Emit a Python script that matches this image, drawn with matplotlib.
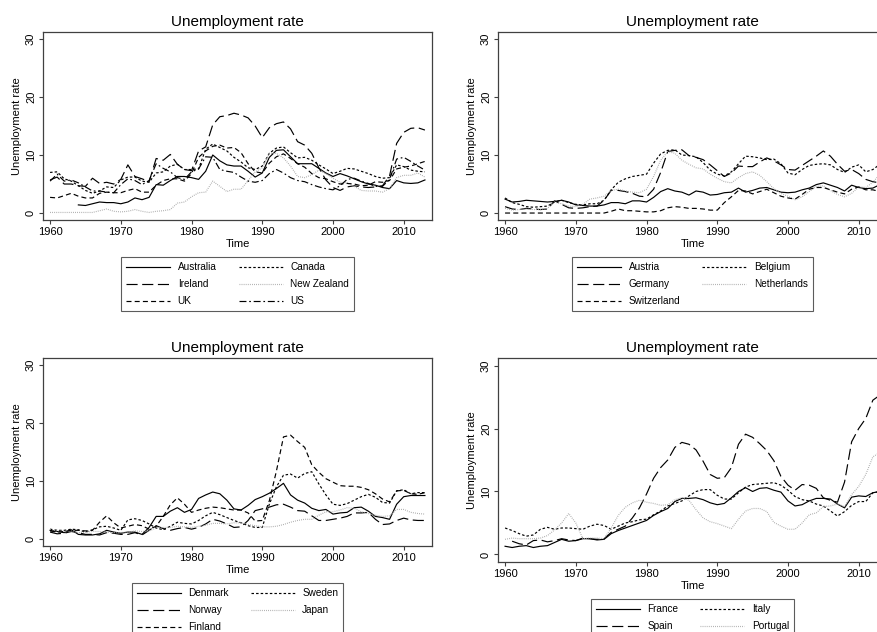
"""
Unemployment rate, 1960-2013, four country groups (Stata s1mono look)
"""

import matplotlib

matplotlib.use("Agg")

import matplotlib.pyplot as plt
import numpy as np

nan = np.nan
years = list(range(1960, 2014))

# --------------------------------------------
# data, 1960..2013
# --------------------------------------------
australia = [nan, nan, nan, nan, 1.4, 1.3, 1.6, 1.9, 1.8, 1.8,
             1.6, 1.9, 2.6, 2.3, 2.7, 4.9, 4.8, 5.6, 6.3, 6.3,
             6.1, 5.8, 7.2, 10.0, 9.0, 8.3, 8.1, 8.1, 7.2, 6.2,
             6.9, 9.6, 10.8, 10.9, 9.7, 8.5, 8.5, 8.5, 7.7, 6.9,
             6.3, 6.8, 6.4, 5.9, 5.4, 5.0, 4.8, 4.4, 4.2, 5.6,
             5.2, 5.1, 5.2, 5.7]
canada = [7.0, 7.1, 5.9, 5.5, 4.7, 3.9, 3.4, 3.8, 4.5, 4.4,
          5.7, 6.2, 6.2, 5.5, 5.3, 6.9, 7.1, 8.1, 8.4, 7.5,
          7.5, 7.6, 11.0, 11.9, 11.3, 10.7, 9.6, 8.8, 7.8, 7.5,
          8.1, 10.3, 11.2, 11.4, 10.4, 9.5, 9.6, 9.1, 8.3, 7.6,
          6.8, 7.2, 7.7, 7.6, 7.2, 6.8, 6.3, 6.0, 6.1, 8.3,
          8.0, 7.4, 7.2, 7.1]
ireland = [5.7, 6.2, 5.0, 5.0, 4.7, 4.6, 6.0, 5.1, 5.3, 5.0,
           5.8, 8.3, 6.3, 5.9, 5.4, 9.4, 9.1, 10.1, 8.4, 7.5,
           7.3, 10.7, 11.4, 15.2, 16.6, 16.8, 17.2, 16.9, 16.4, 15.0,
           13.0, 14.7, 15.4, 15.7, 14.5, 12.3, 11.7, 10.3, 7.8, 5.7,
           4.4, 3.9, 4.5, 4.7, 4.5, 4.4, 4.5, 4.7, 6.4, 12.0,
           13.9, 14.6, 14.7, 14.3]
new_zealand = [0.1, 0.1, 0.1, 0.1, 0.1, 0.1, 0.1, 0.4, 0.7, 0.3,
               0.2, 0.3, 0.6, 0.3, 0.1, 0.3, 0.4, 0.6, 1.7, 1.9,
               2.8, 3.5, 3.6, 5.5, 4.6, 3.7, 4.1, 4.1, 5.6, 7.1,
               7.8, 10.3, 10.3, 9.5, 8.1, 6.3, 6.1, 6.6, 7.4, 6.8,
               6.0, 5.3, 5.2, 4.6, 3.9, 3.8, 3.8, 3.6, 4.2, 6.1,
               6.5, 6.5, 6.9, 6.2]
uk = [2.7, 2.6, 3.0, 3.4, 2.9, 2.6, 2.6, 3.4, 3.6, 3.5,
      3.5, 3.9, 4.2, 3.6, 3.6, 4.8, 5.6, 5.9, 5.9, 5.5,
      6.8, 9.6, 10.7, 11.5, 11.7, 11.2, 11.3, 10.4, 8.5, 7.1,
      6.9, 8.6, 9.7, 10.2, 9.4, 8.5, 7.9, 6.8, 6.1, 5.9,
      5.4, 5.0, 5.1, 5.0, 4.7, 4.8, 5.4, 5.3, 5.6, 7.6,
      7.9, 8.1, 8.5, 8.9]
us = [5.5, 6.7, 5.5, 5.7, 5.2, 4.5, 3.8, 3.8, 3.6, 3.5,
      4.9, 5.9, 5.6, 4.9, 5.6, 8.5, 7.7, 7.1, 6.1, 5.8,
      7.1, 7.6, 9.7, 9.6, 7.5, 7.2, 7.0, 6.2, 5.5, 5.3,
      5.6, 6.8, 7.5, 6.9, 6.1, 5.6, 5.4, 4.9, 4.5, 4.2,
      4.0, 4.7, 5.8, 6.0, 5.5, 5.1, 4.6, 4.6, 5.8, 9.3,
      9.6, 8.9, 8.1, 7.4]

austria = [2.4, 1.9, 2.0, 2.2, 2.1, 2.0, 1.9, 2.0, 2.2, 1.9,
           1.4, 1.3, 1.2, 1.2, 1.4, 1.8, 1.8, 1.6, 2.1, 2.1,
           1.9, 2.7, 3.7, 4.2, 3.8, 3.6, 3.1, 3.8, 3.6, 3.1,
           3.2, 3.5, 3.6, 4.3, 3.6, 3.9, 4.3, 4.4, 4.0, 3.6,
           3.5, 3.6, 4.0, 4.3, 4.9, 5.2, 4.8, 4.4, 3.8, 4.8,
           4.4, 4.2, 4.3, 4.9]
belgium = [2.6, 1.8, 1.5, 1.1, 1.0, 1.1, 1.2, 1.9, 2.2, 1.8,
           1.5, 1.4, 1.6, 1.6, 2.2, 4.0, 5.3, 5.9, 6.3, 6.5,
           6.7, 8.6, 10.2, 10.8, 10.9, 10.0, 9.9, 9.7, 8.7, 7.4,
           6.7, 6.4, 7.1, 8.5, 9.8, 9.7, 9.5, 9.2, 9.3, 8.5,
           6.9, 6.6, 7.5, 8.2, 8.4, 8.5, 8.3, 7.5, 7.0, 7.9,
           8.3, 7.1, 7.5, 8.4]
germany = [1.1, 0.7, 0.6, 0.8, 0.7, 0.6, 0.7, 2.1, 1.5, 0.9,
           0.8, 0.9, 1.1, 1.2, 2.2, 3.9, 3.9, 3.7, 3.4, 2.9,
           2.8, 4.1, 7.0, 10.6, 10.8, 10.9, 9.9, 9.6, 9.2, 8.3,
           7.3, 6.3, 6.9, 8.1, 8.0, 8.0, 8.8, 9.5, 9.0, 8.3,
           7.5, 7.4, 8.2, 9.0, 9.8, 10.7, 9.8, 8.4, 7.2, 7.5,
           6.8, 5.8, 5.4, 5.2]
netherlands = [0.8, 0.5, 0.6, 0.7, 0.6, 0.6, 0.8, 1.9, 1.6, 1.2,
               1.1, 1.5, 2.4, 2.6, 2.9, 3.9, 4.1, 3.8, 3.6, 3.5,
               4.1, 6.3, 9.1, 10.6, 10.3, 9.1, 8.4, 7.8, 7.6, 6.7,
               6.0, 5.4, 5.2, 6.1, 6.8, 7.1, 6.5, 5.4, 4.2, 3.4,
               2.9, 2.3, 2.8, 3.7, 4.6, 4.7, 3.9, 3.2, 2.8, 3.4,
               4.5, 4.4, 5.3, 6.7]
switzerland = [0.0, 0.0, 0.0, 0.0, 0.0, 0.0, 0.0, 0.0, 0.0, 0.0,
               0.0, 0.0, 0.0, 0.0, 0.0, 0.3, 0.7, 0.4, 0.4, 0.3,
               0.2, 0.2, 0.4, 0.9, 1.1, 1.0, 0.8, 0.8, 0.7, 0.5,
               0.5, 1.8, 2.8, 3.9, 3.8, 3.3, 3.7, 4.1, 3.5, 2.9,
               2.6, 2.4, 3.2, 4.1, 4.4, 4.4, 4.0, 3.6, 3.3, 4.1,
               4.5, 4.0, 4.0, 3.7]

denmark = [1.5, 1.3, 1.1, 1.6, 0.8, 0.7, 0.7, 0.9, 1.5, 1.2,
           1.0, 1.2, 1.2, 0.8, 2.0, 3.9, 3.9, 4.8, 5.4, 4.6,
           5.1, 7.0, 7.6, 8.1, 7.8, 6.7, 5.2, 5.0, 5.8, 6.8,
           7.3, 7.9, 8.7, 9.6, 7.6, 6.7, 6.2, 5.3, 4.9, 5.1,
           4.3, 4.5, 4.6, 5.4, 5.5, 4.8, 3.9, 3.7, 3.4, 6.0,
           7.3, 7.5, 7.5, 7.5]
sweden = [1.7, 1.5, 1.5, 1.7, 1.6, 1.2, 1.6, 2.1, 2.2, 1.9,
          1.5, 3.3, 3.5, 3.2, 2.6, 1.9, 1.6, 2.2, 2.9, 2.7,
          2.6, 3.2, 4.0, 4.6, 4.2, 3.7, 3.2, 2.8, 2.3, 2.0,
          2.0, 6.0, 9.0, 11.0, 11.2, 10.5, 11.3, 11.6, 9.5, 7.6,
          6.0, 5.8, 6.1, 6.7, 7.3, 7.7, 7.2, 6.3, 6.2, 8.3,
          8.5, 7.8, 8.0, 8.0]
norway = [1.2, 0.9, 1.0, 1.3, 1.1, 0.8, 0.8, 0.7, 1.1, 1.0,
          0.8, 0.8, 1.1, 0.7, 1.5, 2.3, 1.8, 1.5, 1.8, 2.0,
          1.7, 2.0, 2.6, 3.4, 3.1, 2.6, 2.0, 2.1, 3.2, 4.9,
          5.2, 5.5, 5.9, 6.0, 5.5, 4.9, 4.8, 4.0, 3.2, 3.2,
          3.4, 3.6, 3.9, 4.5, 4.5, 4.6, 3.4, 2.5, 2.6, 3.2,
          3.6, 3.3, 3.2, 3.2]
japan = [1.7, 1.4, 1.3, 1.3, 1.1, 1.2, 1.3, 1.3, 1.2, 1.1,
         1.1, 1.2, 1.4, 1.3, 1.4, 1.9, 2.0, 2.0, 2.2, 2.1,
         2.0, 2.2, 2.4, 2.7, 2.7, 2.6, 2.8, 2.8, 2.5, 2.3,
         2.1, 2.1, 2.2, 2.5, 2.9, 3.2, 3.4, 3.4, 4.1, 4.7,
         4.7, 5.0, 5.4, 5.3, 4.7, 4.4, 4.1, 3.9, 4.0, 5.1,
         5.1, 4.6, 4.4, 4.3]
finland = [1.4, 1.2, 1.3, 1.5, 1.5, 1.4, 1.5, 2.9, 4.0, 2.8,
           1.9, 2.2, 2.5, 2.3, 1.7, 2.2, 3.9, 5.9, 7.1, 6.0,
           4.6, 5.0, 5.3, 5.5, 5.4, 5.2, 5.0, 5.0, 4.5, 3.1,
           3.2, 6.6, 11.7, 17.6, 17.9, 16.8, 15.8, 12.8, 11.5, 10.4,
           9.8, 9.2, 9.1, 9.1, 8.9, 8.5, 7.8, 6.9, 6.4, 8.3,
           8.4, 7.8, 7.7, 8.0]

france = [1.3, 1.1, 1.3, 1.4, 1.1, 1.3, 1.4, 1.9, 2.4, 2.1,
          2.2, 2.5, 2.5, 2.3, 2.4, 3.3, 3.8, 4.2, 4.6, 5.0,
          5.4, 6.2, 6.8, 7.3, 8.4, 8.9, 8.9, 9.0, 8.7, 8.2,
          7.9, 8.1, 9.0, 10.0, 10.6, 10.0, 10.5, 10.6, 10.2, 9.9,
          8.5, 7.7, 7.9, 8.5, 8.9, 8.9, 8.8, 8.0, 7.4, 9.1,
          9.3, 9.2, 9.8, 10.0]
italy = [4.2, 3.8, 3.3, 2.9, 3.1, 4.0, 4.3, 4.0, 4.2, 4.2,
         4.1, 4.0, 4.5, 4.8, 4.6, 4.0, 4.5, 5.0, 5.2, 5.5,
         5.6, 6.3, 6.9, 7.7, 8.1, 8.5, 9.3, 10.0, 10.3, 10.3,
         9.4, 8.8, 8.8, 9.8, 10.7, 11.1, 11.2, 11.3, 11.4, 11.0,
         10.2, 9.2, 8.7, 8.5, 8.0, 7.7, 6.9, 6.1, 6.8, 7.8,
         8.4, 8.4, 9.8, 10.0]
spain = [nan, 2.1, 1.7, 1.5, 2.2, 2.3, 2.0, 2.2, 2.5, 2.3,
         2.2, 2.6, 2.5, 2.4, 2.5, 3.5, 4.0, 4.5, 5.8, 7.4,
         9.6, 12.1, 13.8, 15.0, 17.0, 17.8, 17.5, 16.6, 14.8, 12.7,
         12.1, 12.2, 13.8, 17.5, 19.1, 18.6, 17.6, 16.5, 14.9, 12.4,
         11.0, 10.2, 11.1, 11.0, 10.5, 9.0, 8.6, 8.3, 11.5, 17.9,
         20.0, 21.6, 24.5, 25.3]
portugal = [2.4, 2.6, 2.5, 2.5, 2.5, 2.6, 3.0, 3.9, 5.0, 6.5,
            5.0, 2.5, 2.6, 2.6, 2.5, 4.2, 6.2, 7.5, 8.2, 8.6,
            8.3, 8.1, 7.8, 7.9, 8.7, 9.0, 8.6, 7.1, 5.8, 5.2,
            4.9, 4.5, 4.1, 5.6, 6.9, 7.3, 7.3, 6.8, 5.1, 4.5,
            4.0, 4.0, 5.0, 6.3, 6.6, 7.6, 7.7, 8.0, 7.6, 9.5,
            10.8, 12.7, 15.5, 16.2]

x_ticks = [1960, 1970, 1980, 1990, 2000, 2010]
y_ticks = [0, 10, 20, 30]

# --------------------------------------------
# panels: (series, labels, axes rect in pixels [left, top, right, bottom])
# --------------------------------------------
panels = [
    ([australia, canada, ireland, new_zealand, uk, us],
     ["Australia", "Canada", "Ireland", "New Zealand", "UK", "US"],
     (43, 32, 432, 220)),
    ([austria, belgium, germany, netherlands, switzerland],
     ["Austria", "Belgium", "Germany", "Netherlands", "Switzerland"],
     (498, 32, 887, 220)),
    ([denmark, sweden, norway, japan, finland],
     ["Denmark", "Sweden", "Norway", "Japan", "Finland"],
     (43, 358, 432, 546)),
    ([france, italy, spain, portugal],
     ["France", "Italy", "Spain", "Portugal"],
     (498, 358, 887, 562)),
]

# s1mono line patterns (points, not scaled by width)
styles = [
    ("-", "black"),
    ((0, (1.8, 1.5)), "black"),
    ((0, (8.0, 3.3)), "black"),
    ((0, (0.6, 0.9)), "#a6a6a6"),
    ((0, (3.6, 2.3)), "black"),
    ((0, (5.0, 2.0, 1.2, 2.0)), "black"),
]

plt.rcParams["font.family"] = ["Liberation Sans", "DejaVu Sans"]
plt.rcParams["lines.scale_dashes"] = False

W, H = 877, 632
fig = plt.figure(figsize=(W / 100, H / 100), dpi=100)

for series, labels, (l, t, r, b) in panels:
    ax = fig.add_axes([l / W, 1 - b / H, (r - l) / W, (b - t) / H])
    lines = []
    for i, vals in enumerate(series):
        ls, col = styles[i]
        (ln,) = ax.plot(years, vals, linestyle=ls, color=col, lw=0.85)
        lines.append(ln)

    ax.set_xlim(1959, 2014)
    ax.set_ylim(-1.2, 31.2)
    ax.set_xticks(x_ticks)
    ax.set_yticks(y_ticks)
    ax.tick_params(axis="both", direction="out", length=3, width=0.8,
                   color="#404040", labelsize=8, pad=2)
    ax.tick_params(axis="y", labelrotation=90)
    for lab in ax.get_yticklabels():
        lab.set_va("center")
    for sp in ax.spines.values():
        sp.set_color("#404040")
        sp.set_linewidth(0.9)

    ax.set_title("Unemployment rate", fontsize=11, pad=4.5)
    ax.set_xlabel("Time", fontsize=8, labelpad=1.5)
    ax.set_ylabel("Unemployment rate", fontsize=8, labelpad=3)

    # row-major legend order like Stata: reorder for matplotlib's column fill
    n = len(lines)
    order = list(range(0, n, 2)) + list(range(1, n, 2))
    gap = 37 / (b - t)
    leg = ax.legend([lines[k] for k in order], [labels[k] for k in order],
                    loc="upper center", bbox_to_anchor=(0.5, -gap), ncol=2,
                    fontsize=7.2, frameon=True, fancybox=False,
                    edgecolor="#333333", handlelength=4.4, handletextpad=0.75,
                    columnspacing=2.2, labelspacing=0.7, borderpad=0.5,
                    borderaxespad=0)
    leg.get_frame().set_linewidth(0.8)

fig.savefig("out.png", dpi=100)
